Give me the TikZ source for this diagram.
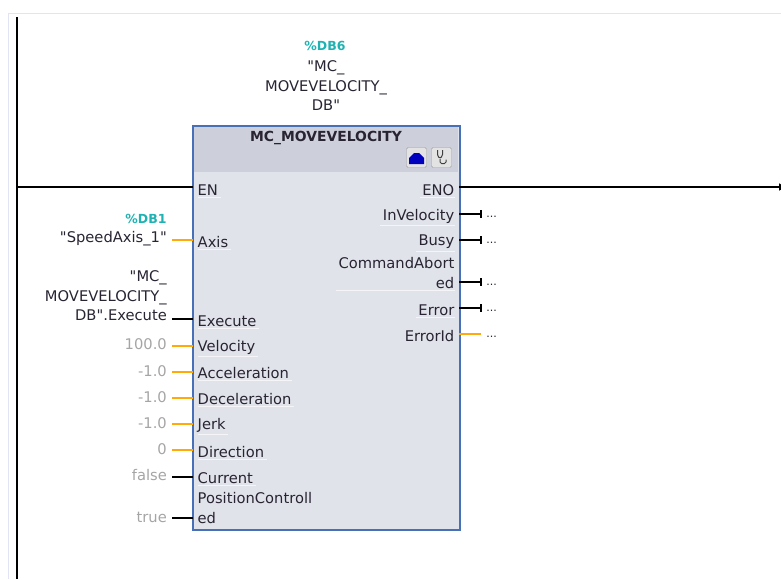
\documentclass[tikz,border=0pt]{standalone}
\usepackage{fontspec}
\setmainfont{DejaVu Sans}[Ligatures=TeXOff]
\usepackage{xcolor}
\usetikzlibrary{positioning, arrows.meta}
\definecolor{framelav}{RGB}{226,228,245}
\definecolor{headgrey}{RGB}{205,208,218}
\definecolor{bodygrey}{RGB}{225,227,235}
\definecolor{boxblue}{RGB}{72,112,184}
\definecolor{dbteal}{RGB}{32,178,178}
\definecolor{wireorange}{RGB}{255,170,10}
\definecolor{constgrey}{RGB}{165,165,165}
\definecolor{textdark}{RGB}{40,36,50}

\begin{document}
\begin{tikzpicture}[x=1pt, y=-1pt, font=\fontsize{14.7}{19.5}\selectfont, text=textdark,
    block/.style={draw=boxblue, line width=1.4pt, fill=bodygrey, inner sep=0pt, minimum width=266pt, minimum height=403pt, anchor=north west},
    pinin/.style={anchor=west, inner xsep=2.5pt, inner ysep=2pt, align=left},
    pinout/.style={anchor=east, inner xsep=2.5pt, inner ysep=2pt, align=right},
    actual/.style={anchor=east, inner sep=0pt, align=right},
    const/.style={actual, text=constgrey},
    dbname/.style={text=dbteal, font=\fontsize{12.5}{13}\selectfont\bfseries},
    rail/.style={line width=2.6pt, black},
    boolwire/.style={line width=2.5pt, black},
    datawire/.style={line width=2.5pt, wireorange},
    sep/.style={white!65!bodygrey, line width=0.8pt},
    icon/.style={draw=gray!75, fill=gray!22, rounded corners=1.5pt, minimum size=20pt, inner sep=0pt},
    open/.style={inner sep=0pt, font=\fontsize{11}{11}\selectfont}]
  \useasboundingbox (0,0) rectangle (781,579);
  \draw[framelav, line width=1pt] (781,13.5) -| (8.5,579);

  % block
  \node[block] (fb) at (193,126) {};
  \fill[headgrey] (193.7,126.7) rectangle (458.3,172);
  \draw[boxblue, line width=1.4pt] (fb.north west) rectangle (fb.south east);
  \node[font=\fontsize{13.9}{14}\selectfont\bfseries] (title) at (326,138) {MC\_MOVEVELOCITY};
  \node[dbname] (db6) at (325,46) {\%DB6};
  \node[align=center] (dbsix) at (326,86) {"MC\_\\MOVEVELOCITY\_\\DB"};

  % icons
  \node[icon] (diag) at (441.5,157.5) {};
  \node[icon] (mem) at (416.5,157.5) {};
  \fill[blue!75!black] (409,164) -- ++(0,-6) -- ++(5,-5) -- ++(5,0) -- ++(5,5) -- ++(0,6) -- cycle;
  \draw[black!75, line width=1pt, rounded corners=1.5pt] (437.5,150) -- ++(0,6) -- ++(2.5,2.5) -- ++(2.5,-2.5) -- ++(0,-6);
  \draw[black!75, line width=1pt, rounded corners=1.5pt] (440,158.5) -- ++(0,5) -- ++(6,0) -- ++(0,-4);

  % input pins
  \node[pinin] (en) at (195,190) {EN};
  \node[pinin] (axis) at (195,242) {Axis};
  \node[pinin] (execute) at (195,321) {Execute};
  \node[pinin] (velocity) at (195,347) {Velocity};
  \node[pinin] (accel) at (195,373) {Acceleration};
  \node[pinin] (decel) at (195,399) {Deceleration};
  \node[pinin] (jerk) at (195,425) {Jerk};
  \node[pinin] (direction) at (195,452) {Direction};
  \node[pinin] (current) at (195,478) {Current};
  \node[pinin] (posctrl) at (195,508) {PositionControll\\ed};

  % output pins
  \node[pinout] (eno) at (457,190) {ENO};
  \node[pinout] (invel) at (457,216) {InVelocity};
  \node[pinout] (busy) at (457,242) {Busy};
  \node[pinout] (cmd) at (457,273) {CommandAbort\\ed};
  \node[pinout] (error) at (457,310) {Error};
  \node[pinout] (errorid) at (457,336) {ErrorId};

  \foreach \pin in {en,axis,execute,velocity,accel,decel,jerk,direction,current}
    \draw[sep] (\pin.south west) ++(3,0) -- (\pin.south east);
  \foreach \pin in {eno,invel,busy,cmd,error}
    \draw[sep] (\pin.south west) -- ([xshift=-2pt]\pin.south east);

  % rails
  \coordinate (railtop) at (17,17);
  \coordinate (railbot) at (17,579);
  \coordinate (railen) at (17,187);
  \coordinate (railend) at (787,187);
  \draw[rail] (railtop) -- (railbot);
  \draw[rail] (railen) -- (193,187);
  \draw[rail, -{Latex[length=8pt,width=8pt]}] (459,187) -- (railend);

  % actual parameters
  \node[dbname] (db1) at (146,219) {\%DB1};
  \node[actual] (speedaxis) at (167,239) {"SpeedAxis\_1"};
  \node[actual] (execvar) at (167,296) {"MC\_\\MOVEVELOCITY\_\\DB".Execute};
  \node[const] (cvel) at (167,344) {100.0};
  \node[const] (cacc) at (167,371) {-1.0};
  \node[const] (cdec) at (167,397) {-1.0};
  \node[const] (cjerk) at (167,423) {-1.0};
  \node[const] (cdir) at (167,449) {0};
  \node[const] (ccur) at (167,475) {false};
  \node[const] (cpos) at (167,517) {true};

  \draw[datawire] (172,240) -- (193,240);
  \draw[boolwire] (172,319) -- (193,319);
  \draw[datawire] (172,346) -- (193,346);
  \draw[datawire] (172,372) -- (193,372);
  \draw[datawire] (172,398) -- (193,398);
  \draw[datawire] (172,424) -- (193,424);
  \draw[datawire] (172,450) -- (193,450);
  \draw[boolwire] (172,477) -- (193,477);
  \draw[boolwire] (172,518) -- (193,518);

  % open outputs
  \node[open] (oinvel) at (491.5,217) {...};
  \node[open] (obusy) at (491.5,243) {...};
  \node[open] (ocmd) at (491.5,285) {...};
  \node[open] (oerror) at (491.5,311) {...};
  \node[open] (oerrid) at (491.5,337) {...};
  \draw[boolwire, -{Bar[width=8pt,length=2pt]}] (459,214) -- (482,214);
  \draw[boolwire, -{Bar[width=8pt,length=2pt]}] (459,240) -- (482,240);
  \draw[boolwire, -{Bar[width=8pt,length=2pt]}] (459,282) -- (482,282);
  \draw[boolwire, -{Bar[width=8pt,length=2pt]}] (459,308) -- (482,308);
  \draw[datawire] (459,334) -- (481,334);
\end{tikzpicture}
\end{document}
